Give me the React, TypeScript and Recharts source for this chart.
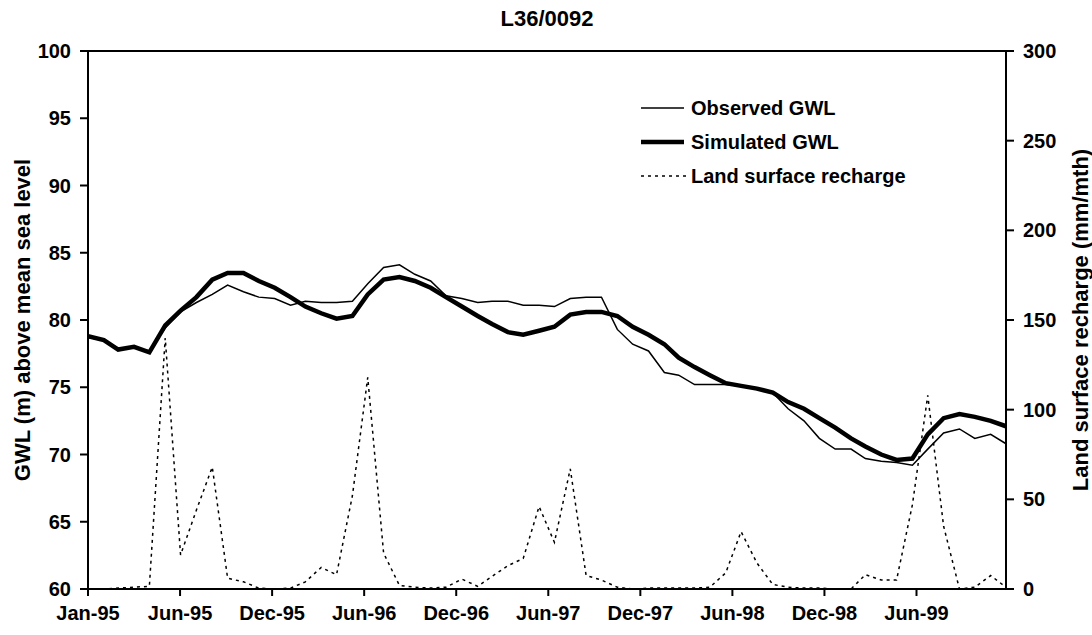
import React from 'react';
import { ComposedChart, Line, XAxis, YAxis, ReferenceLine, Legend } from 'recharts';

// Monthly observations, Jan-1995 .. Dec-1999
const years = [1995, 1996, 1997, 1998, 1999];
const monthsPerYear = 12;

const observedGWL = [
  78.7, 78.5, 77.9, 78.0, 77.7, 79.4, 80.6, 81.3, 81.9, 82.6, 82.1, 81.7,
  81.6, 81.1, 81.4, 81.3, 81.3, 81.4, 82.7, 83.9, 84.1, 83.4, 82.9, 81.8,
  81.6, 81.3, 81.4, 81.4, 81.1, 81.1, 81.0, 81.6, 81.7, 81.7, 79.3, 78.2,
  77.7, 76.1, 75.9, 75.2, 75.2, 75.2, 75.1, 74.9, 74.6, 73.4, 72.5, 71.2,
  70.4, 70.4, 69.7, 69.5, 69.4, 69.2, 70.4, 71.6, 71.9, 71.2, 71.5, 70.8,
];

const simulatedGWL = [
  78.8, 78.5, 77.8, 78.0, 77.6, 79.6, 80.7, 81.7, 83.0, 83.5, 83.5, 82.9,
  82.4, 81.7, 81.0, 80.5, 80.1, 80.3, 81.9, 83.0, 83.2, 82.9, 82.4, 81.7,
  81.0, 80.3, 79.7, 79.1, 78.9, 79.2, 79.5, 80.4, 80.6, 80.6, 80.3, 79.5,
  78.9, 78.2, 77.2, 76.5, 75.9, 75.3, 75.1, 74.9, 74.6, 73.9, 73.4, 72.7,
  72.0, 71.2, 70.6, 70.0, 69.6, 69.7, 71.5, 72.7, 73.0, 72.8, 72.5, 72.1,
];

const recharge = [
  0, 0, 0.5, 1, 1.5, 140, 19, 44, 68, 6, 4, 0.5,
  0, 0.5, 4, 12, 8, 52, 118, 20, 2, 1, 0.5, 1,
  5.5, 1.5, 7, 13, 17, 46, 26, 67, 7.5, 5, 1, 0,
  0.5, 0.5, 0.5, 0.5, 1, 9, 32, 14.5, 2.5, 1, 0.5, 0.5,
  0, 0, 8, 5, 5, 47, 108, 35, 0, 1, 7.5, 1,
];

const xTickLabels = ['Jan-95', 'Jun-95', 'Dec-95', 'Jun-96', 'Dec-96', 'Jun-97', 'Dec-97', 'Jun-98', 'Dec-98', 'Jun-99'];
const xTickStepDays = 180;
const leftTicks = [60, 65, 70, 75, 80, 85, 90, 95, 100];
const rightTicks = [0, 50, 100, 150, 200, 250, 300];

const seriesNames = ['Observed GWL', 'Simulated GWL', 'Land surface recharge'];
const title = 'L36/0092';
const leftTitle = 'GWL (m) above mean sea level';
const rightTitle = 'Land surface recharge (mm/mth)';

const DAY = 86400000;
const origin = Date.UTC(years[0], 0, 1);

const data = observedGWL.map((obs, i) => {
  const y = years[Math.floor(i / monthsPerYear)];
  const m = i % monthsPerYear;
  return {
    day: Math.round((Date.UTC(y, m, 1) - origin) / DAY),
    observed: obs,
    simulated: simulatedGWL[i],
    recharge: recharge[i],
  };
});

const xTicks = xTickLabels.map((_, i) => i * xTickStepDays);
const lastDay = data[data.length - 1].day;

const FONT = '"Liberation Sans", Arial, Helvetica, sans-serif';
const tickStyle = { fontSize: 20, fontWeight: 700, fill: '#000', fontFamily: FONT };

const AxisTitle = (text: string, dxFromAxis: number) => (props: any) => {
  const vb = props.viewBox || {};
  const cx = vb.x + dxFromAxis;
  const cy = vb.y + vb.height / 2;
  return (
    <text
      x={cx}
      y={cy}
      transform={`rotate(-90, ${cx}, ${cy})`}
      textAnchor="middle"
      dy="0.35em"
      fontSize={22}
      fontWeight={700}
      fontFamily={FONT}
      fill="#000"
    >
      {text}
    </text>
  );
};

const legendStyles = [
  { w: 1.5, dash: undefined as string | undefined },
  { w: 4.5, dash: undefined as string | undefined },
  { w: 1.5, dash: '3 4' },
];

const LegendBox = () => (
  <div style={{ fontFamily: FONT, fontWeight: 700, fontSize: 20, color: '#000' }}>
    {seriesNames.map((name, i) => (
      <div key={name} style={{ display: 'flex', alignItems: 'center', height: 34, lineHeight: '34px', whiteSpace: 'nowrap' }}>
        <svg width={46} height={10} style={{ display: 'block' }}>
          <line x1={0} y1={5} x2={i === 2 ? 46 : 43} y2={5} stroke="#000" strokeWidth={legendStyles[i].w} strokeDasharray={legendStyles[i].dash} />
        </svg>
        <span style={{ marginLeft: 4 }}>{name}</span>
      </div>
    ))}
  </div>
);

export default function App() {
  return (
    <div style={{ position: 'absolute', left: 0, top: 0, width: 1092, height: 635, background: '#fff' }}>
      <div
        style={{
          position: 'absolute',
          left: 397,
          width: 300,
          top: 8,
          textAlign: 'center',
          fontFamily: FONT,
          fontWeight: 700,
          fontSize: 22,
          lineHeight: '22px',
          color: '#000',
          zIndex: 2,
        }}
      >
        {title}
      </div>
      <ComposedChart width={1092} height={635} data={data} margin={{ top: 51, right: 0, bottom: 0, left: 0 }}>
        <XAxis
          dataKey="day"
          type="number"
          domain={[0, lastDay]}
          ticks={xTicks}
          tickFormatter={(v: number) => xTickLabels[Math.round(v / xTickStepDays)] ?? ''}
          interval={0}
          height={46}
          tickSize={7}
          tickMargin={10}
          tick={tickStyle}
          axisLine={{ stroke: '#000', strokeWidth: 2 }}
          tickLine={{ stroke: '#000', strokeWidth: 2 }}
          allowDataOverflow
        />
        <YAxis
          yAxisId="left"
          orientation="left"
          domain={[60, 100]}
          ticks={leftTicks}
          interval={0}
          width={88}
          tickSize={8}
          tickMargin={9}
          tick={tickStyle}
          axisLine={{ stroke: '#000', strokeWidth: 2 }}
          tickLine={{ stroke: '#000', strokeWidth: 2 }}
          allowDataOverflow
          label={{ content: AxisTitle(leftTitle, 22) }}
        />
        <YAxis
          yAxisId="right"
          orientation="right"
          domain={[0, 300]}
          ticks={rightTicks}
          interval={0}
          width={86}
          tickSize={8}
          tickMargin={9}
          tick={tickStyle}
          axisLine={{ stroke: '#000', strokeWidth: 2 }}
          tickLine={{ stroke: '#000', strokeWidth: 2 }}
          allowDataOverflow
          label={{ content: AxisTitle(rightTitle, 74) }}
        />
        <ReferenceLine yAxisId="left" y={100} stroke="#000" strokeWidth={2} />
        <Line
          yAxisId="right"
          dataKey="recharge"
          name={seriesNames[2]}
          type="linear"
          stroke="#000"
          strokeWidth={1.5}
          strokeDasharray="3 4"
          dot={false}
          isAnimationActive={false}
        />
        <Line
          yAxisId="left"
          dataKey="observed"
          name={seriesNames[0]}
          type="linear"
          stroke="#000"
          strokeWidth={1.5}
          dot={false}
          isAnimationActive={false}
        />
        <Line
          yAxisId="left"
          dataKey="simulated"
          name={seriesNames[1]}
          type="linear"
          stroke="#000"
          strokeWidth={4.5}
          dot={false}
          isAnimationActive={false}
        />
        <Legend
          layout="vertical"
          align="center"
          verticalAlign="middle"
          content={() => <LegendBox />}
          wrapperStyle={{ position: 'absolute', left: 641, top: 91, width: 320, height: 102 }}
        />
      </ComposedChart>
    </div>
  );
}
